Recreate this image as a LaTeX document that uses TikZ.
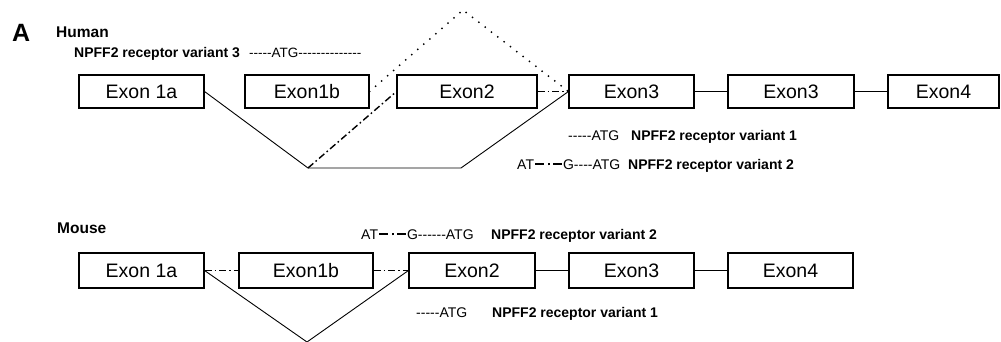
\documentclass[tikz,border=0pt]{standalone}
\usepackage{fontspec}
\setmainfont{Liberation Sans}[Ligatures=TeXOff]
\newcommand\ddsym{\hspace{1pt}\rule[3.6pt]{9pt}{2pt}\hspace{3.5pt}\rule[3.6pt]{2pt}{2pt}\hspace{3.5pt}\rule[3.6pt]{9pt}{2pt}\hspace{1pt}}
\begin{document}
\begin{tikzpicture}[x=1pt,y=-1pt,
  exon/.style={draw, line width=1.1pt, inner sep=0pt, font=\fontsize{19.5}{21}\selectfont},
  hexon/.style={exon, minimum height=33pt},
  mexon/.style={exon, minimum height=35pt},
  lbl/.style={anchor=base west, inner sep=0pt, font=\fontsize{14}{16}\selectfont\bfseries},
  seq/.style={anchor=base west, inner sep=0pt, font=\fontsize{14}{16}\selectfont},
  head/.style={anchor=base west, inner sep=0pt, font=\fontsize{15.5}{18}\selectfont\bfseries},
  conn/.style={line width=0.9pt},
  dashdot/.style={line width=1.4pt, dash pattern=on 7pt off 3pt on 1.6pt off 3pt},
  dotline/.style={line width=2pt, line cap=round, dash pattern=on 0pt off 8pt}]
\useasboundingbox (0,0) rectangle (1001,342);

% panel letter and headings
\node[anchor=base west, inner sep=0pt, font=\fontsize{25}{27}\selectfont\bfseries] (A) at (12,42) {A};
\node[head] (human) at (56,38) {Human};
\node[head] (mouse) at (57,233) {Mouse};

% Human exons
\node[hexon, minimum width=125pt] (h1a) at (141.5,91.5) {Exon 1a};
\node[hexon, minimum width=124pt] (h1b) at (307,91.5) {Exon1b};
\node[hexon, minimum width=140pt] (h2)  at (467,91.5) {Exon2};
\node[hexon, minimum width=125pt] (h3)  at (631.5,91.5) {Exon3};
\node[hexon, minimum width=126pt] (h3b) at (791,91.5) {Exon3};
\node[hexon, minimum width=111pt] (h4)  at (943.5,91.5) {Exon4};

\coordinate (hv) at (308,168);
\coordinate (hv2) at (461,168);
\coordinate (apex) at (463,10);

\draw[conn] (h1a.east) -- (hv) -- (hv2) -- (h3.west);
\draw[dashdot] (hv) -- (h2.west);
\draw[dotline] (h1b.east) -- (apex) -- (h3.west);
\draw[dashdot] (h2.east) -- (h3.west);
\draw[conn] (h3.east) -- (h3b.west);
\draw[conn] (h3b.east) -- (h4.west);

% Human labels
\node[lbl] (hv3) at (74,58) {NPFF2 receptor variant 3};
\node[seq, font=\fontsize{13.5}{16}\selectfont] (hv3s) at (249,58) {-----ATG--------------};
\node[seq] (hv1s) at (568,140) {-----ATG};
\node[lbl] (hv1) at (631,140) {NPFF2 receptor variant 1};
\node[seq] (hv2s) at (517,169) {AT\ddsym G----ATG};
\node[lbl] (hv2l) at (628,169) {NPFF2 receptor variant 2};

% Mouse exons
\node[mexon, minimum width=125pt] (m1a) at (141.5,270.5) {Exon 1a};
\node[mexon, minimum width=134pt] (m1b) at (306,270.5) {Exon1b};
\node[mexon, minimum width=126pt] (m2)  at (472,270.5) {Exon2};
\node[mexon, minimum width=125pt] (m3)  at (631.5,270.5) {Exon3};
\node[mexon, minimum width=125pt] (m4)  at (790.5,270.5) {Exon4};

\coordinate (mv) at (307,342);

\draw[dashdot] (m1a.east) -- (m1b.west);
\draw[dashdot] (m1b.east) -- (m2.west);
\draw[conn] (m1a.east) -- (mv) -- (m2.west);
\draw[conn] (m2.east) -- (m3.west);
\draw[conn] (m3.east) -- (m4.west);

% Mouse labels
\node[seq] (mv2s) at (361,239) {AT\ddsym G------ATG};
\node[lbl] (mv2) at (491,239) {NPFF2 receptor variant 2};
\node[seq] (mv1s) at (416,317) {-----ATG};
\node[lbl] (mv1) at (492,317) {NPFF2 receptor variant 1};
\end{tikzpicture}
\end{document}
